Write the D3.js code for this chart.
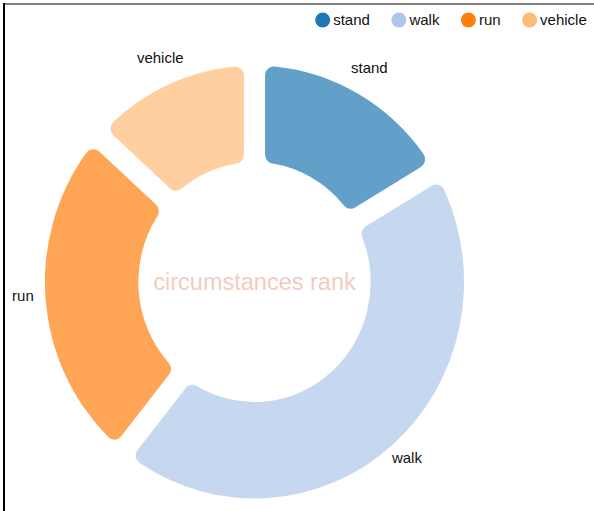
<!DOCTYPE html>
<html>
<head>
<meta charset="utf-8">
<script src="https://cdn.jsdelivr.net/npm/d3@7"></script>
<style>
  body { margin: 0; background: #fff; }
  svg { display: block; font-family: "Liberation Sans", Arial, sans-serif; }
</style>
</head>
<body>
<div id="chart"></div>
<script>
// data
const categories = ['stand', 'walk', 'run', 'vehicle'];
const values = [13, 35, 20.5, 10.5];
const colors = ['#1f77b4', '#aec7e8', '#ff7f0e', '#ffbb78'];
const title = 'circumstances rank';

const width = 594, height = 511;
const cx = 254.5, cy = 282;
const outerR = 216.5, innerR = 120;
const sx = 0.968; // picture is a bit narrower than tall
const labelR = 240;

const svg = d3.select('#chart').append('svg')
    .attr('width', width)
    .attr('height', height);

// frame lines
svg.append('rect').attr('x', 3).attr('y', 3).attr('width', width - 3).attr('height', 2).attr('fill', '#808080');
svg.append('rect').attr('x', 3).attr('y', 3).attr('width', 2).attr('height', height - 3).attr('fill', '#000');

const color = d3.scaleOrdinal().domain(categories).range(colors);

const pie = d3.pie().sort(null).value(d => d.value);
const arcs = pie(categories.map((c, i) => ({name: c, value: values[i]})));

const arc = d3.arc()
    .innerRadius(innerR)
    .outerRadius(outerR)
    .padAngle(0.088)
    .cornerRadius(9);

const labelArc = d3.arc().innerRadius(labelR).outerRadius(labelR);

// slices
svg.append('g')
    .attr('transform', `translate(${cx},${cy}) scale(${sx},1)`)
    .selectAll('path')
    .data(arcs)
    .enter()
    .append('path')
    .attr('d', arc)
    .attr('fill', d => color(d.data.name))
    .attr('fill-opacity', 0.7);

// labels
svg.append('g')
    .attr('transform', `translate(${cx},${cy})`)
    .selectAll('text')
    .data(arcs)
    .enter()
    .append('text')
    .attr('x', d => labelArc.centroid(d)[0] * sx)
    .attr('y', d => labelArc.centroid(d)[1])
    .attr('text-anchor', 'middle')
    .style('font-size', '15px')
    .style('fill', '#111')
    .text(d => d.data.name);

// center title
svg.append('text')
    .attr('x', cx)
    .attr('y', cy)
    .attr('dy', '0.35em')
    .attr('text-anchor', 'middle')
    .style('font-size', '23.5px')
    .style('fill', '#e9967a')
    .style('fill-opacity', 0.5)
    .text(title);

// legend
const legend = svg.append('g');
let lx = 322.7;
categories.forEach(c => {
    legend.append('circle')
        .attr('cx', lx)
        .attr('cy', 20)
        .attr('r', 7.5)
        .attr('fill', color(c));
    const t = legend.append('text')
        .attr('x', lx + 10.5)
        .attr('y', 20)
        .attr('dy', '0.35em')
        .style('font-size', '15px')
        .style('fill', '#111')
        .text(c);
    lx = lx + 10.5 + t.node().getComputedTextLength() + 29;
});
</script>
</body>
</html>
